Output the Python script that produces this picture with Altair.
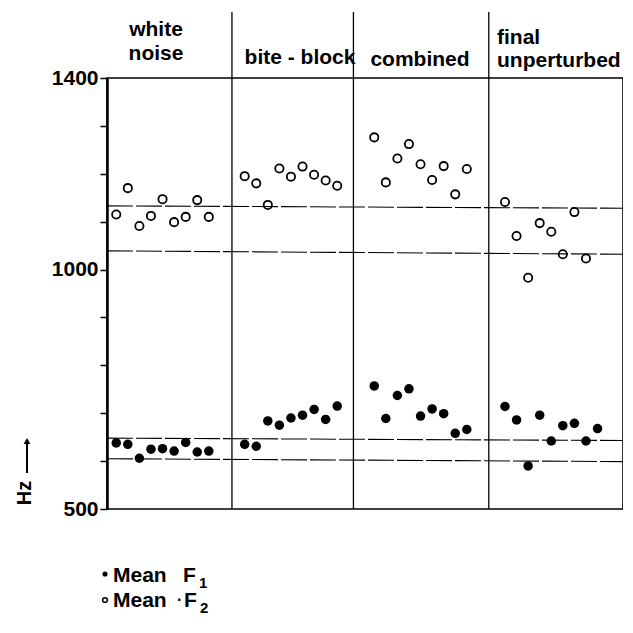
import altair as alt
import pandas as pd

# ---------------- data ----------------
conditions = ["white noise", "bite-block", "combined", "final unperturbed"]
panel_start = [0.8, 11.9, 23.1, 34.4]      # token index of first utterance in each condition
panel_bounds = [10.8, 21.3, 33.0]          # condition boundaries (token index)

f1_white = [638, 635, 606, 625, 626, 621, 639, 619, 621]
f1_bite = [635, 631, 684, 675, 690, 696, 708, 687, 715]
f1_comb = [757, 689, 737, 751, 694, 709, 699, 658, 666]
f1_final = [714, 686, 590, 696, 642, 674, 679, 642, 668]

f2_white = [1115, 1170, 1091, 1112, 1147, 1099, 1110, 1145, 1110]
f2_bite = [1195, 1180, 1135, 1211, 1194, 1215, 1198, 1186, 1175]
f2_comb = [1276, 1182, 1232, 1262, 1220, 1187, 1216, 1157, 1210]
f2_final = [1141, 1070, 983, 1097, 1079, 1032, 1120, 1023]

ref_left = [1133, 1039, 648, 605]
ref_right = [1128, 1032, 643, 599]

y_ticks = [500, 600, 700, 800, 900, 1000, 1100, 1200, 1300, 1400]
y_labels = [500, 1000, 1400]

X_MAX = 44.6

rows = []
for series, groups in [("F1", [f1_white, f1_bite, f1_comb, f1_final]),
                       ("F2", [f2_white, f2_bite, f2_comb, f2_final])]:
    for cond, start, vals in zip(conditions, panel_start, groups):
        for j, v in enumerate(vals):
            rows.append({"series": series, "condition": cond, "token": start + j, "hz": v})
df = pd.DataFrame(rows)

df_ref = pd.DataFrame({"x0": [0] * len(ref_left), "x1": [X_MAX] * len(ref_left),
                       "y0": ref_left, "y1": ref_right})
df_bounds = pd.DataFrame({"b": panel_bounds})

W, H = 516, 431
FONT = "Liberation Sans"

xs = alt.Scale(domain=[0, X_MAX], nice=False, zero=False)
ys = alt.Scale(domain=[500, 1400], nice=False, zero=False)

label_test = " || ".join(f"datum.value == {v}" for v in y_labels)
yaxis = alt.Axis(values=y_ticks, labelExpr=f"({label_test}) ? datum.label : ''",
                 title=None, grid=False, domainColor="black", domainWidth=2.5,
                 tickColor="black", tickWidth=1.5, tickSize=7, labelFont=FONT,
                 labelFontSize=21, labelFontWeight="bold", labelColor="black",
                 labelPadding=2, format="d")

base = alt.Chart(df)

f1 = base.transform_filter(alt.datum.series == "F1").mark_point(
    shape="circle", filled=True, size=90, color="black", opacity=1
).encode(x=alt.X("token:Q", scale=xs, axis=None), y=alt.Y("hz:Q", scale=ys, axis=yaxis))

f2 = base.transform_filter(alt.datum.series == "F2").mark_point(
    shape="circle", filled=False, size=68, color="black", strokeWidth=1.8, opacity=1
).encode(x=alt.X("token:Q", scale=xs, axis=None), y=alt.Y("hz:Q", scale=ys, axis=yaxis))

refs = alt.Chart(df_ref).mark_rule(color="black", strokeWidth=1.1, strokeDash=[26, 3]).encode(
    x=alt.X("x0:Q", scale=xs, axis=None), x2="x1:Q",
    y=alt.Y("y0:Q", scale=ys, axis=yaxis), y2="y1:Q")

divs = alt.Chart(df_bounds).mark_rule(color="black", strokeWidth=1.3).encode(
    x=alt.X("b:Q", scale=xs, axis=None), y=alt.value(-66), y2=alt.value(H))

layers = [refs, divs, f2, f1]

one = alt.Chart(df_bounds).transform_filter("datum.b == %s" % panel_bounds[0])

def txt(s, x, y, size=20, align="left", weight="bold", angle=0, font=FONT):
    kw = dict(text=s, fontSize=size, font=font, fontWeight=weight, align=align,
              baseline="alphabetic", color="black")
    if angle:
        kw["angle"] = angle
        kw["baseline"] = "middle"
    return one.mark_text(**kw).encode(x=alt.value(x), y=alt.value(y))

# headers
layers += [
    txt("white", 49, -42, 21, "center"),
    txt("noise", 49, -18, 21, "center"),
    txt("bite - block", 193, -14, 21, "center"),
    txt("combined", 313, -12, 21, "center"),
    txt("final", 390, -34, 21, "left"),
    txt("unperturbed", 390, -11, 21, "left"),
]

# Hz label with upward arrow
layers += [txt("Hz", -82, 415, 20, "center", angle=270)]
layers += [
    one.mark_rule(color="black", strokeWidth=2).encode(
        x=alt.value(-80), y=alt.value(365), y2=alt.value(395)),
    one.mark_point(shape="triangle-up", filled=True, size=45, color="black", opacity=1).encode(
        x=alt.value(-80), y=alt.value(363)),
]

# legend
layers += [
    one.mark_point(shape="circle", filled=True, size=26, color="black", opacity=1).encode(
        x=alt.value(-2), y=alt.value(496)),
    txt("Mean", 6, 504, 21),
    txt("F", 76, 504, 21),
    txt("1", 92, 510, 15),
    one.mark_point(shape="circle", filled=False, size=22, strokeWidth=1.5, color="black", opacity=1).encode(
        x=alt.value(-2), y=alt.value(522)),
    txt("Mean", 6, 529, 21),
    txt("\u00b7", 70, 527, 16),
    txt("F", 77, 529, 21),
    txt("2", 93, 535, 15),
]

chart = alt.layer(*layers).properties(
    width=W, height=H,
    autosize=alt.AutoSizeParams(type="none"),
    padding={"left": 99, "top": 70, "right": 0, "bottom": 113},
).configure_view(stroke="black", strokeWidth=1.6)

chart.save("out.html", embed_options={"renderer": "svg", "actions": False})
